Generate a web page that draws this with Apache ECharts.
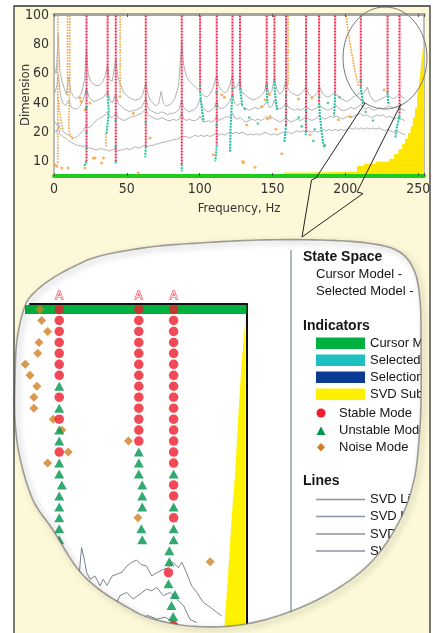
<!DOCTYPE html>
<html><head><meta charset="utf-8">
<script src="https://cdn.jsdelivr.net/npm/echarts@6/dist/echarts.min.js"></script>
<style>html,body{margin:0;padding:0;background:#fff}#c{width:433px;height:633px}</style>
</head><body><div id="c"></div>
<script>
// ---------- TOP CHART DATA (Frequency Hz, Dimension) ----------
const xTicks = [0, 50, 100, 150, 200, 250];
const yTickLabels = {0: '10', 20: '20', 40: '40', 60: '60', 80: '80', 100: '100'};

const stableFreq = [22.3, 36.8, 42.4, 63.0, 87.7, 100.3, 111.7, 122.5, 127.7, 146.0, 151.3, 159.3, 173.0, 182.0, 193.0, 210.6, 229.0, 237.2];
const stableLow  = [0, 45, 0, 10, -2, 48, 11, 45, 50, 49, 55, 25, 21, 40, 46, 51, 47, 32];

const unstablePaths = [
  [[22.3,0],[21.5,-2],[20.5,-3]],
  [[36.8,45],[37.2,40],[37.6,35],[37.0,28],[36.4,22],[36.0,19]],
  [[42.4,0],[42.2,-2]],
  [[63,10],[62.8,6],[62.6,3]],
  [[87.7,-2],[87.7,-7]],
  [[100.3,48],[100.8,42],[101.5,36],[102.2,31],[102.8,27]],
  [[111.7,11],[111.3,6],[110.9,2],[110.6,0]],
  [[122.5,45],[122.0,38],[121.6,30],[121.2,22],[121.0,14],[120.8,6]],
  [[127.7,50],[128.2,46],[128.8,42],[129.2,38]],
  [[146,49],[146.3,44],[146.6,40]],
  [[151.3,55],[151.6,48],[152.2,42],[152.8,38],[153.2,35]],
  [[159.3,25],[158.8,20],[158.4,16],[158.0,13]],
  [[173,21],[172.8,18]],
  [[182,40],[182.5,32],[183.2,25],[184,18],[184.8,13],[185.5,9]],
  [[193,46],[192.8,40],[192.5,35],[192.2,31]],
  [[210.6,51],[211.2,46],[211.8,42],[212.2,38]],
  [[229,47],[229.2,43],[229.6,40]],
  [[237.2,32],[236.5,28],[235.5,24],[234.8,20],[234.2,16]]
];
const unstableDots = [[22.3,47],[22.3,37],[22.3,20],[22.3,9],[42.4,28],[42.4,10],[63,27],[100.3,52],[111.7,47],[111.7,38],[111.7,25],[122.5,50],[146,52],[159.3,45],[159.3,38],[159.3,30],[173,35],[173,28],[182,44],[210.6,55],[237.2,36],[237.2,30],[131,36],[134,30],[140,26],[168,30],[170,24],[179,22],[188,40],[196,44],[214,34],[219,28],[186,11],[178,14]];

const noiseColumns = [
  [[2.6,100],[2.6,-2]],
  [[2.8,44],[3.6,36],[4.6,29],[5.6,24],[6.2,22]],
  [[9.3,100],[9.3,45]],
  [[10.8,100],[10.8,50],[10.4,36],[10.1,26],[10.6,20],[11.6,17],[12.8,15]],
  [[35.8,19],[35.6,14],[35.8,10]],
  [[45.4,100],[45.4,47]],
  [[160.7,100],[160.7,52]],
  [[200.5,100],[201.5,92],[203,82],[204,76],[205.5,68],[206.5,62],[207.5,58],[208.5,54],[209,51]]
];
const noiseDots = [[0.7,-2.3],[1.8,-3.4],[5.3,-4.5],[9.8,-4.5],[17.9,43.4],[18.5,41],[21.3,35.4],[24.7,40],[21.3,-4.5],[27,2.3],[28.2,2.3],[32.8,-1.1],[33.9,2.3],[45.3,44.5],[54.5,33],[57.9,-8],[65.9,16],[109.4,4.6],[115.2,45.7],[117,44],[129.6,0],[130,-0.7],[132.3,25],[142.6,37.7],[145,42.3],[146.5,29.2],[147.9,45.7],[148.4,30.8],[152.3,22.2],[156.4,5.3],[167.8,42.7],[175.8,18.3],[177,43.4],[195.3,28.6],[203.3,30.8],[226.6,49],[229.6,40],[138,-4]];

const svdA = [[0,66],[1.5,60],[3,88],[4,62],[5.5,55],[7,50],[8.5,46],[10,58],[11.5,48],[13,45],[15,43],[17,44],[19,47],[21,56],[22.3,77],[23.5,60],[25,55],[27,53],[29,52],[31,52],[33,54],[35,58],[36.8,66],[38,56],[40,55],[42.4,70],[44,57],[46,52],[48,47],[50,45],[53,43],[56,42],[59,43],[61,46],[63,54],[64.5,46],[66,42],[68,40],[70,38],[72,40],[73.5,48],[75,40],[77,38],[80,39],[83,43],[85.5,52],[87.7,82],[89,66],[91,58],[93,55],[95,53],[97,51],[99,49],[101,47],[103,45],[105,44],[107,46],[109,50],[111.7,59],[113,52],[115,49],[117,47],[119,48],[120.5,52],[122.5,59],[124,50],[126,52],[127.7,56],[129,47],[131,46],[133,44],[135,43],[137,42],[139,43],[141,44],[143,46],[144.5,48],[146,55],[147.5,46],[149.5,48],[151.3,57],[153,49],[155,46],[157,48],[159.3,55],[161,49],[163,47],[165,46],[167,45],[169,46],[171,48],[173,51],[175,46],[177,44],[179,45],[181,47],[182,52],[184,47],[186,45],[188,44],[190,45],[192,47],[193,48],[195,45],[197,43],[199,42],[201,41],[203,42],[205,44],[207,45],[209,46],[210.6,48],[212,46],[214,49],[215,51],[217,45],[219,42],[221,41],[223,42],[225,43],[227,44],[229,46],[231,44],[233,43],[235,44],[237,46],[239,44],[241,43]];
const svdB = [[0,45],[2,52],[3,60],[4.5,45],[6,40],[8,38],[10,42],[12,37],[14,36],[16,36],[18,38],[20,42],[22.3,50],[24,44],[26,42],[28,41],[30,42],[32,43],[34,44],[36.8,48],[38.5,42],[40,40],[42.4,46],[44,40],[46,38],[48,36],[50,35],[52,34],[54,35],[56,35],[58,36],[60,37],[63,43],[64.5,37],[66,35],[68,34],[70,33],[72,33],[74,34],[76,33],[78,32],[80,33],[82,33],[84,34],[86,36],[87.7,42],[89,37],[91,35],[93,34],[95,35],[97,36],[98.5,38],[100.3,43],[102,37],[104,35],[106,34],[108,35],[110,37],[111.7,41],[113,37],[115,36],[117,37],[119,39],[120.5,41],[122.5,46],[124,40],[126,38],[128,40],[130,37],[132,36],[134,35],[136,36],[138,37],[140,36],[142,37],[144,38],[146,41],[148,37],[150,38],[151.3,42],[153,37],[155,36],[157,37],[159.3,40],[161,37],[163,36],[165,35],[167,36],[169,35],[171,36],[173,38],[175,36],[177,35],[179,36],[181,37],[182,39],[184,37],[186,36],[188,35],[190,36],[192,37],[194,38],[196,36],[198,35],[200,35],[202,36],[204,37],[206,36],[208,37],[210.6,39],[212,37],[214,36],[216,37],[218,36],[220,35],[222,36],[224,37],[226,36],[228,37],[230,38],[232,37],[234,37],[236,38],[238,36],[241,35]];
const svdC = [[0,28],[2,25],[3,27],[4,23],[6,21],[8,19],[10,18],[12,17],[14,16],[16,17],[18,19],[20,21],[22.3,25],[24,23],[26,25],[28,27],[30,29],[32,30],[34,31],[36.8,34],[38,31],[40,30],[42.4,33],[44,30],[46,29],[48,28],[50,29],[52,30],[54,31],[56,31],[58,32],[60,33],[63,36],[64.5,32],[66,31],[68,30],[70,29],[72,29],[74,30],[76,29],[78,28],[80,28],[82,29],[84,28],[86,29],[87.7,33],[89,29],[91,28],[93,29],[95,28],[97,28],[99,29],[100.3,31],[102,28],[104,27],[106,28],[108,27],[110,28],[111.7,31],[113,28],[115,29],[117,30],[119,31],[120.5,30],[122.5,33],[124,30],[126,29],[128,30],[130,28],[132,27],[134,28],[136,29],[138,28],[140,29],[142,28],[144,29],[146,31],[148,29],[150,30],[151.3,31],[153,28],[155,27],[157,28],[159.3,30],[161,28],[163,27],[165,28],[167,29],[169,28],[171,29],[173,31],[175,29],[177,28],[179,29],[181,30],[182,32],[184,30],[186,29],[188,30],[190,31],[192,30],[194,31],[196,30],[198,29],[200,30],[202,31],[204,30],[206,31],[208,32],[210.6,33],[212,31],[214,32],[216,31],[218,30],[220,31],[222,32],[224,31],[226,32],[228,30],[230,31],[232,30],[234,29],[236,30],[238,29],[241,28]];
const svdD = [[0,22],[1.5,20],[3,24],[4,19],[6,17],[8,16],[10,14],[12,13],[14,12],[16,11],[18,11],[20,10],[22.3,11],[24,9],[26,9],[28,8],[30,8],[32,9],[34,8],[36,8],[38,7],[40,8],[42,8],[44,7],[46,8],[48,8],[50,9],[52,8],[54,9],[56,10],[58,9],[60,10],[62,11],[63,12],[64.5,10],[66,11],[68,11],[70,12],[72,12],[74,13],[76,13],[78,14],[80,14],[82,15],[84,15],[86,16],[87.7,17],[89,16],[91,17],[93,16],[95,17],[97,18],[99,17],[101,18],[103,17],[105,18],[107,17],[109,18],[111,19],[113,18],[115,19],[117,18],[119,19],[121,20],[123,19],[125,20],[127,19],[129,20],[131,19],[133,18],[135,19],[137,18],[139,19],[141,18],[143,19],[145,20],[147,19],[149,18],[151,19],[153,18],[155,19],[157,20],[159,19],[161,20],[163,19],[165,20],[167,21],[169,20],[171,21],[173,20],[175,21],[177,20],[179,21],[181,20],[183,21],[185,22],[187,21],[189,22],[191,21],[193,22],[195,21],[197,22],[199,21],[201,22],[203,23],[205,22],[207,23],[209,22],[211,23],[213,22],[215,23],[217,22],[219,23],[221,22],[223,23],[225,22],[227,21],[229,22],[231,21],[233,20],[235,21],[237,20],[239,19],[241,18]];

const svdSubspace = [[158,-7.6],[175,-7.3],[195,-7],[208,-3.2],[213,-1.6],[221,-0.2],[230,1.8],[233.5,5],[236.5,8.5],[239,12],[241,15.5],[243,19.5],[244.8,24],[246.3,30],[247.8,36.5],[249.3,44],[250.6,53],[251.6,62],[252.6,72],[253.4,80],[254,84]];

// ---------- MAGNIFIED VIEW DATA ----------
const zoomStable = [
  [210.6,100],[210.6,98],[210.6,96],[210.6,94],[210.6,92],[210.6,90],[210.6,88],[210.6,84],[210.6,80],[210.6,74],
  [229.1,100],[229.1,98],[229.1,96],[229.1,94],[229.1,92],[229.1,90],[229.1,88],[229.1,86],[229.1,84],[229.1,82],[229.1,80],[229.1,78],[229.1,76],
  [237.2,100],[237.2,98],[237.2,96],[237.2,94],[237.2,92],[237.2,90],[237.2,88],[237.2,86],[237.2,84],[237.2,82],[237.2,80],[237.2,78],[237.2,76],[237.2,74],[237.2,72],
  [237.2,68],[237.2,66],[237.2,62],[236.0,52],[237.1,42.4]
];
const zoomUnstable = [
  [210.6,86],[210.6,82],[210.6,78],[210.6,76],[210.6,72],[210.6,70],[211.2,68],[210.6,66],[210.6,64],[210.6,62],[210.6,60],[210.6,58],[210.6,56],[210.6,54],
  [229.1,74],[229.1,72],[229.1,70],[229.9,68],[229.9,66],[229.9,64],[229.7,60],[229.9,58],
  [237.2,70],[237.2,64],[237.2,60],[237.2,58],[236.2,56],[236.2,54],[236.0,50],[237.5,48],[236.7,46],[237.1,44]
];
const zoomNoise = [[206.1,100],[206.5,98],[207.9,96],[205.9,94],[205.6,92],[202.7,90],[203.8,88],[205.4,86],[204.7,84],[204.7,82],[209.2,80],[211.2,78],[212.7,74],[207.9,72],[226.7,76],[228.9,62],[245.7,54]];
const zoomColumnTags = [[210.6,102.4],[229.1,102.4],[237.2,102.4]];
const zoomCursorBand = [[202.6,100],[254.15,100]];
const zoomSvdEdge = [[254.0,99.2],[253.0,90],[252.2,80],[251.5,70],[250.7,62],[249.9,52],[249.1,43.5],[248.9,38]];
const zoomSvd1 = [[215.0,49.6],[215.8,56.6],[216.4,54.5],[217.0,52.0],[217.8,50.8],[218.9,51.4],[220.1,49.6],[220.8,50.8],[221.7,49.7],[222.9,51.4],[224.0,51.7],[225.2,52.1],[226.3,53.2],[227.5,53.9],[228.6,54.3],[229.6,53.5],[230.9,53.2],[232.1,51.4],[233.3,52.0],[234.8,52.6],[236.0,52.9],[237.1,53.9],[238.3,52.9],[239.1,53.9],[240.2,52.0],[241.4,49.6],[242.6,48.4],[244.1,46.6],[245.7,45.7],[247.2,44.8],[248.4,44.1]];
const zoomSvd2 = [[224.0,46.6],[224.7,47.8],[226.3,48.4],[227.8,47.2],[229.4,48.1],[230.9,49.0],[232.1,48.7],[233.3,49.3],[234.8,47.8],[236.4,48.4],[237.9,47.2],[239.5,46.0],[241.0,43.5],[242.6,42.9]];
const zoomSvd3 = [[227.5,43.2],[229.4,43.5],[231.2,44.2],[233.3,43.5],[235.2,43.9],[237.1,43.0],[239.0,42.2],[241.0,41.6]];

// ---------- STYLE CONSTANTS ----------
const BG = '#fcf8d8';
const NARROW = '"Liberation Sans Narrow", "DejaVu Sans Condensed", "Arial Narrow", sans-serif';
const SANS = '"Liberation Sans", Arial, sans-serif';
const ZX_MIN = 203.8, ZX_MAX = 254.15;

// ---------- BUBBLE OUTLINE (layout) ----------
const bubbleCtrl = [[25,306],[36,291],[53,278],[75,266],[100,256],[150,247],[200,243],[260,240],[320,240],[367,243],[398,251],[414,270],[420,300],[421,340],[421,400],[419,440],[414,480],[401,518],[375,558],[340,587],[292,611],[240,625],[190,626],[150,618],[127,607],[100,590],[77,568],[53,530],[33,500],[20,458],[15,420],[15,380],[17,340]];
function sampleClosed(pts, steps) {
  const out = [], n = pts.length;
  for (let i = 0; i < n; i++) {
    const p0 = pts[(i - 1 + n) % n], p1 = pts[i], p2 = pts[(i + 1) % n], p3 = pts[(i + 2) % n];
    for (let s = 0; s < steps; s++) {
      const t = s / steps, t2 = t * t, t3 = t2 * t;
      const f = k => 0.5 * ((2 * p1[k]) + (-p0[k] + p2[k]) * t + (2 * p0[k] - 5 * p1[k] + 4 * p2[k] - p3[k]) * t2 + (-p0[k] + 3 * p1[k] - 3 * p2[k] + p3[k]) * t3);
      out.push([f(0), f(1)]);
    }
  }
  return out;
}
const bubble = sampleClosed(bubbleCtrl, 8);
let kLeft = 0;
bubble.forEach((p, i) => { if (p[0] < bubble[kLeft][0]) kLeft = i; });
const overlay = [[14,232],[430,232],[430,641],[14,641],[14,bubble[kLeft][1]]];
for (let j = 0; j <= bubble.length; j++) {
  overlay.push(bubble[(kLeft - j + bubble.length * 2) % bubble.length]);
}
overlay.push([14, bubble[kLeft][1]]);

const chart = echarts.init(document.getElementById('c'), null, {renderer: 'canvas'});

const txt = (text, x, y, font, fill) => ({type: 'text', z: 20, x: x, y: y, style: {text: text, font: font, fill: fill || '#151515', align: 'left', verticalAlign: 'middle'}});
const legendItemFont = '13px ' + SANS;
const legendHeadFont = 'bold 14px ' + SANS;

const graphics = [
  {type: 'rect', z: -10, shape: {x: 14, y: 6, width: 416, height: 640}, style: {fill: BG}},
  {type: 'polygon', z: -5, shape: {points: bubble}, style: {fill: '#ffffff'}},
  // legend panel
  {type: 'line', z: 20, shape: {x1: 291, y1: 250, x2: 291, y2: 620}, style: {stroke: '#98a0aa', lineWidth: 1.5}},
  txt('State Space', 303, 257, legendHeadFont),
  txt('Cursor Model -', 316, 274, legendItemFont),
  txt('Selected Model -', 316, 291.5, legendItemFont),
  txt('Indicators', 303, 326, legendHeadFont),
  {type: 'rect', z: 20, shape: {x: 316, y: 337.5, width: 49, height: 11.5}, style: {fill: '#00b140'}},
  {type: 'rect', z: 20, shape: {x: 316, y: 354.5, width: 49, height: 11.5}, style: {fill: '#1ebfc0'}},
  {type: 'rect', z: 20, shape: {x: 316, y: 371.5, width: 49, height: 11.5}, style: {fill: '#0a3a94'}},
  {type: 'rect', z: 20, shape: {x: 316, y: 388.5, width: 49, height: 11.5}, style: {fill: '#fff000'}},
  txt('Cursor Model', 370, 343.5, legendItemFont),
  txt('Selected Modes', 370, 360.5, legendItemFont),
  txt('Selection Range', 370, 377.5, legendItemFont),
  txt('SVD Subspace', 370, 394.5, legendItemFont),
  {type: 'circle', z: 20, shape: {cx: 321, cy: 413, r: 4.5}, style: {fill: '#ef1c2c'}},
  {type: 'polygon', z: 20, shape: {points: [[316.5,435],[321,426.5],[325.5,435]]}, style: {fill: '#00934f'}},
  {type: 'polygon', z: 20, shape: {points: [[321,443],[325,447.3],[321,451.6],[317,447.3]]}, style: {fill: '#d07f22'}},
  txt('Stable Mode', 339, 413, legendItemFont),
  txt('Unstable Mode', 339, 430.5, legendItemFont),
  txt('Noise Mode', 339, 447.5, legendItemFont),
  txt('Lines', 303, 481, legendHeadFont),
  {type: 'line', z: 20, shape: {x1: 316, y1: 499.5, x2: 365, y2: 499.5}, style: {stroke: '#8b93a0', lineWidth: 1.3}},
  {type: 'line', z: 20, shape: {x1: 316, y1: 516.5, x2: 365, y2: 516.5}, style: {stroke: '#8b93a0', lineWidth: 1.3}},
  {type: 'line', z: 20, shape: {x1: 316, y1: 534, x2: 365, y2: 534}, style: {stroke: '#8b93a0', lineWidth: 1.3}},
  {type: 'line', z: 20, shape: {x1: 316, y1: 551, x2: 365, y2: 551}, style: {stroke: '#8b93a0', lineWidth: 1.3}},
  txt('SVD Line 1', 370, 499.5, legendItemFont),
  txt('SVD Line 2', 370, 516.5, legendItemFont),
  txt('SVD Line 3', 370, 534, legendItemFont),
  txt('SVD Line 4', 370, 551, legendItemFont),
  // overlay outside bubble
  {type: 'polygon', z: 50, shape: {points: overlay}, style: {fill: BG}},
  {type: 'rect', z: 50, shape: {x: 430, y: 0, width: 10, height: 640}, style: {fill: '#ffffff'}},
  {type: 'polygon', z: 51, shape: {points: bubble}, style: {fill: null, stroke: 'rgba(100,100,100,0.6)', lineWidth: 1.6, shadowBlur: 6, shadowColor: 'rgba(0,0,0,0.55)', shadowOffsetX: 2.5, shadowOffsetY: 2.5}},
  // magnifier ellipse + pointer
  {type: 'ellipse', z: 60, shape: {cx: 385, cy: 58, rx: 42, ry: 51}, style: {fill: null, stroke: '#777', lineWidth: 1}},
  {type: 'polyline', z: 60, shape: {points: [[365,103],[316,178],[311.5,180],[302,237]]}, style: {stroke: '#222', lineWidth: 1, fill: null}},
  {type: 'polyline', z: 60, shape: {points: [[401,104],[357,192],[363,193.5],[302,237]]}, style: {stroke: '#222', lineWidth: 1, fill: null}},
  // outer frame
  {type: 'rect', z: 60, shape: {x: 14, y: 6, width: 416, height: 640}, style: {fill: null, stroke: '#333', lineWidth: 1.3}}
];

const option = {
  backgroundColor: '#ffffff',
  animation: false,
  grid: [
    {left: 54, right: 9, top: 14, bottom: 457, show: true, backgroundColor: '#ffffff', borderColor: '#a8a8a8', borderWidth: 1.5, outerBoundsMode: 'none', containLabel: false},
    {left: 30, right: 186.5, top: 304, bottom: 0, show: false, outerBoundsMode: 'none', containLabel: false}
  ],
  xAxis: [
    {gridIndex: 0, type: 'value', min: 0, max: 254, interval: 50, z: 3,
     axisLine: {show: true, onZero: false, lineStyle: {color: '#1ecc1e', width: 4}},
     axisTick: {show: true, inside: true, length: 3, lineStyle: {color: '#555'}},
     axisLabel: {margin: 6, fontSize: 14, color: '#333', fontFamily: NARROW,
       formatter: v => (xTicks.indexOf(v) >= 0 ? String(v) : '')},
     splitLine: {show: false},
     name: 'Frequency, Hz', nameLocation: 'middle', nameGap: 26, nameMoveOverlap: false,
     nameTextStyle: {fontSize: 13, color: '#333', fontFamily: NARROW}},
    {gridIndex: 0, type: 'value', position: 'top', min: 0, max: 254, interval: 50, z: 3,
     axisLine: {show: true, onZero: false, lineStyle: {color: '#a4a4a4', width: 3}},
     axisTick: {show: true, inside: true, length: 3, lineStyle: {color: '#555'}},
     axisLabel: {show: false}, splitLine: {show: false}},
    {gridIndex: 1, type: 'value', position: 'top', min: ZX_MIN, max: ZX_MAX,
     axisLine: {show: true, onZero: false, lineStyle: {color: '#111', width: 2}},
     axisTick: {show: false}, axisLabel: {show: false}, splitLine: {show: false}}
  ],
  yAxis: [
    {gridIndex: 0, type: 'value', min: -10, max: 101, interval: 10,
     axisLine: {show: false, onZero: false}, axisTick: {show: false}, splitLine: {show: false},
     axisLabel: {margin: 5, fontSize: 14, color: '#333', fontFamily: NARROW,
       formatter: v => (yTickLabels[v] !== undefined ? yTickLabels[v] : '')},
     name: 'Dimension', nameLocation: 'middle', nameGap: 22, nameRotate: 90, nameMoveOverlap: false,
     nameTextStyle: {fontSize: 13, color: '#333', fontFamily: NARROW}},
    {gridIndex: 1, type: 'value', position: 'right', min: 41, max: 101,
     axisLine: {show: true, onZero: false, lineStyle: {color: '#111', width: 2}},
     axisTick: {show: false}, axisLabel: {show: false}, splitLine: {show: false}}
  ],
  series: [
    // ---- top chart ----
    {type: 'line', xAxisIndex: 0, yAxisIndex: 0, data: svdSubspace, step: 'end', symbol: 'none',
     lineStyle: {width: 0}, areaStyle: {color: '#ffe600', opacity: 1, origin: 'start'}, z: 1, silent: true},
    ...[svdA, svdB, svdC, svdD].map(d => ({type: 'line', xAxisIndex: 0, yAxisIndex: 0, data: d, symbol: 'none',
      lineStyle: {color: '#b2b2b2', width: 1}, z: 2, silent: true})),
    {type: 'lines', coordinateSystem: 'cartesian2d', xAxisIndex: 0, yAxisIndex: 0, polyline: true,
     data: noiseColumns.map(c => ({coords: c})),
     lineStyle: {color: '#f2a33a', width: 1.6, type: [1.6, 1.2], opacity: 1}, z: 3, silent: true},
    {type: 'scatter', xAxisIndex: 0, yAxisIndex: 0, data: noiseDots, symbolSize: 3,
     itemStyle: {color: '#f2a33a'}, z: 3, silent: true},
    {type: 'lines', coordinateSystem: 'cartesian2d', xAxisIndex: 0, yAxisIndex: 0, polyline: true,
     data: stableFreq.map((f, i) => ({coords: [[f, 100], [f, stableLow[i]]]})),
     lineStyle: {color: '#f0264a', width: 2, type: [2, 1], opacity: 1}, z: 4, silent: true},
    {type: 'lines', coordinateSystem: 'cartesian2d', xAxisIndex: 0, yAxisIndex: 0, polyline: true,
     data: unstablePaths.map(c => ({coords: c})),
     lineStyle: {color: '#1dbf9b', width: 2, type: [2, 1], opacity: 1}, z: 4, silent: true},
    {type: 'scatter', xAxisIndex: 0, yAxisIndex: 0, data: unstableDots, symbolSize: 2.6,
     itemStyle: {color: '#1dbf9b'}, z: 5, silent: true},
    // ---- magnified view ----
    {type: 'line', xAxisIndex: 2, yAxisIndex: 1, data: zoomCursorBand, symbol: 'none', clip: false,
     lineStyle: {color: '#00b140', width: 9, cap: 'butt'}, z: 2, silent: true},
    {type: 'custom', xAxisIndex: 2, yAxisIndex: 1, coordinateSystem: 'cartesian2d', data: [[250, 70]], clip: false, z: 1, silent: true,
     renderItem: (params, api) => {
       const pts = zoomSvdEdge.map(p => api.coord(p));
       const right = api.coord([ZX_MAX, 70])[0] - 1;
       pts.push([right, pts[pts.length - 1][1]]);
       pts.push([right, pts[0][1]]);
       return {type: 'polygon', shape: {points: pts}, style: {fill: '#fff200'}};
     }},
    ...[zoomSvd1, zoomSvd2, zoomSvd3].map(d => ({type: 'line', xAxisIndex: 2, yAxisIndex: 1, data: d, symbol: 'none',
      lineStyle: {color: '#7b8391', width: 1}, z: 2, silent: true})),
    {type: 'scatter', xAxisIndex: 2, yAxisIndex: 1, data: zoomNoise, symbol: 'diamond', symbolSize: [9, 9],
     itemStyle: {color: '#d07f22'}, clip: false, z: 3, silent: true},
    {type: 'scatter', xAxisIndex: 2, yAxisIndex: 1, data: zoomStable, symbol: 'circle', symbolSize: 9.5,
     itemStyle: {color: '#ef1c2c'}, clip: false, z: 4, silent: true},
    {type: 'scatter', xAxisIndex: 2, yAxisIndex: 1, data: zoomUnstable, symbol: 'triangle', symbolSize: [10, 9],
     itemStyle: {color: '#00934f'}, clip: false, z: 4, silent: true},
    {type: 'scatter', xAxisIndex: 2, yAxisIndex: 1, data: zoomColumnTags, symbolSize: 1, clip: false,
     itemStyle: {color: 'rgba(255,255,255,0)'}, z: 4, silent: true,
     label: {show: true, position: 'inside', formatter: 'A', color: '#ffffff', textBorderColor: '#f03040', textBorderWidth: 1.3,
       fontSize: 11, fontFamily: SANS}}
  ],
  graphic: {elements: graphics}
};
chart.setOption(option);
</script></body></html>
